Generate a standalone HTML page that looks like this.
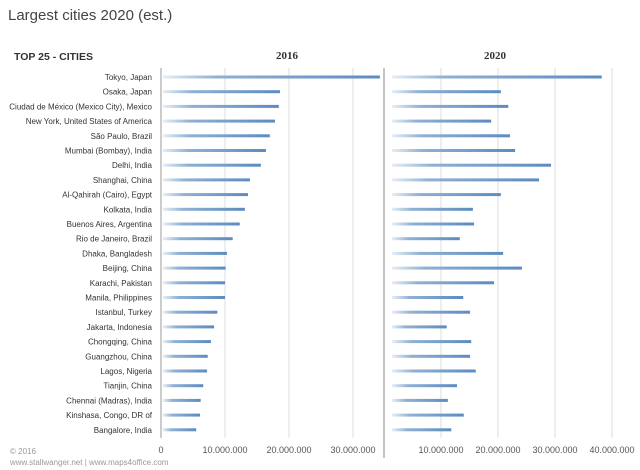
<!DOCTYPE html>
<html><head><meta charset="utf-8"><style>
body{margin:0;width:640px;height:470px;background:#fff;font-family:"Liberation Sans",sans-serif;overflow:hidden}
svg{display:block}
</style></head><body>
<svg width="640" height="470">
<defs><linearGradient id="g" x1="0" x2="1" y1="0" y2="0"><stop offset="0" stop-color="#e6edf5"/><stop offset="0.25" stop-color="#8fb0d4"/><stop offset="1" stop-color="#5b8cc0"/></linearGradient></defs>
<text x="8" y="20" font-size="15" fill="#444">Largest cities 2020 (est.)</text>
<text x="14" y="60" font-size="10.5" font-weight="bold" fill="#333">TOP 25 - CITIES</text>
<text x="287" y="59" font-size="11" font-weight="bold" font-family="Liberation Serif,serif" text-anchor="middle" fill="#333">2016</text>
<text x="495" y="59" font-size="11" font-weight="bold" font-family="Liberation Serif,serif" text-anchor="middle" fill="#333">2020</text>
<g id="grid"></g><g id="bars"></g><g id="labels"></g>
<text x="10" y="454" font-size="8" fill="#999">© 2016</text>
<text x="10" y="465" font-size="8" fill="#999">www.stallwanger.net | www.maps4office.com</text>
</svg>
<script>
const cities=["Tokyo, Japan","Osaka, Japan","Ciudad de México (Mexico City), Mexico","New York, United States of America","São Paulo, Brazil","Mumbai (Bombay), India","Delhi, India","Shanghai, China","Al-Qahirah (Cairo), Egypt","Kolkata, India","Buenos Aires, Argentina","Rio de Janeiro, Brazil","Dhaka, Bangladesh","Beijing, China","Karachi, Pakistan","Manila, Philippines","Istanbul, Turkey","Jakarta, Indonesia","Chongqing, China","Guangzhou, China","Lagos, Nigeria","Tianjin, China","Chennai (Madras), India","Kinshasa, Congo, DR of","Bangalore, India"];
const pop2016=[34.2,18.6,18.4,17.8,17.0,16.4,15.6,13.9,13.6,13.1,12.3,11.2,10.3,10.1,10.0,10.0,8.8,8.3,7.8,7.3,7.2,6.6,6.2,6.1,5.5];
const pop2020=[38.2,20.5,21.8,18.8,22.1,23.0,29.3,27.2,20.5,15.6,15.8,13.3,20.9,24.2,19.3,13.9,15.1,11.0,15.3,15.1,16.1,12.8,11.2,14.0,11.8];
const ticks2016=[0,10,20,30];
const tickLabels2016=["0","10.000.000","20.000.000","30.000.000"];
const ticks2020=[10,20,30,40];
const tickLabels2020=["10.000.000","20.000.000","30.000.000","40.000.000"];
const NS="http://www.w3.org/2000/svg";
const x16=v=>161+v*6.4, x20=v=>384+v*5.7, yRow=i=>77+i*14.7;
function mk(t,a,p){const e=document.createElementNS(NS,t);for(const k in a)e.setAttribute(k,a[k]);p.appendChild(e);return e;}
const grid=document.getElementById('grid'),bars=document.getElementById('bars'),labels=document.getElementById('labels');
function axis(ticks,tl,xf,name){ticks.forEach((t,i)=>{
 const l=mk('line',{x1:xf(t),x2:xf(t),y1:68,y2:438,stroke:t===0?'#999':'#ddd','stroke-width':1},grid);
 
 
 const tx=mk('text',{x:xf(t),y:453,'font-size':9,fill:'#555','text-anchor':'middle'},grid);tx.textContent=tl[i];
 
 });}
axis(ticks2016,tickLabels2016,x16,'x-axis-2016');
axis(ticks2020,tickLabels2020,x20,'x-axis-2020');
const ax=mk('line',{x1:384,x2:384,y1:68,y2:458,stroke:'#888','stroke-width':1},grid);


cities.forEach((c,i)=>{const y=yRow(i);
 const t=mk('text',{x:152,y:y+3,'font-size':8,fill:'#333','text-anchor':'end'},labels);t.textContent=c;
 
 
 const b1=mk('rect',{x:x16(0)+2,y:y-1.5,width:x16(pop2016[i])-x16(0)-2,height:3,fill:'url(#g)'},bars);
 
 
 const b2=mk('rect',{x:x20(0)+8,y:y-1.5,width:x20(pop2020[i])-x20(0)-8,height:3,fill:'url(#g)'},bars);
 
 
});
</script>
</body></html>
